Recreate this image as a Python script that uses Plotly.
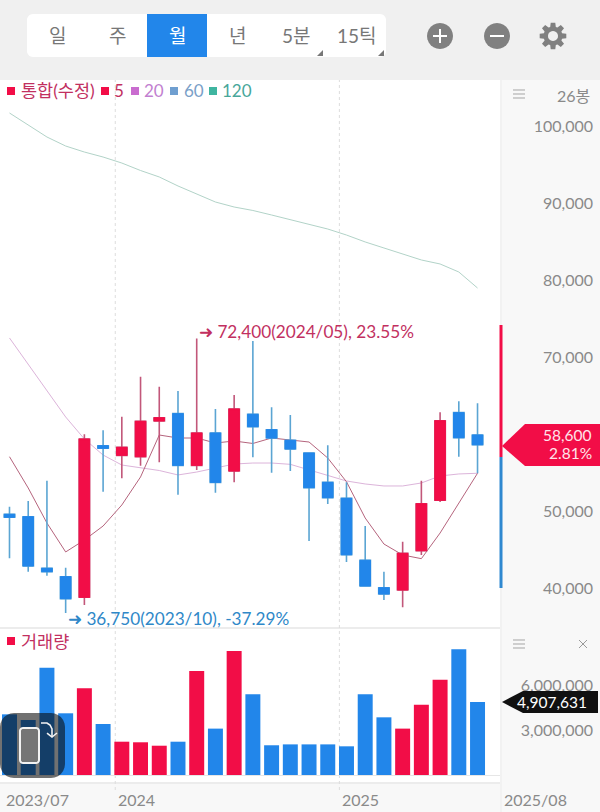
import math
import plotly.graph_objects as go

months = ['2023/07','2023/08','2023/09','2023/10','2023/11','2023/12',
          '2024/01','2024/02','2024/03','2024/04','2024/05','2024/06',
          '2024/07','2024/08','2024/09','2024/10','2024/11','2024/12',
          '2025/01','2025/02','2025/03','2025/04','2025/05','2025/06',
          '2025/07','2025/08']

opens  = [49570,49260,42560,41470,38790,58480,57230,57050,61690,62640,55930,60130,55190,
          62560,60560,59180,57530,53720,51650,43600,40040,39740,44840,51390,62770,59870]
highs  = [50560,51300,53930,42640,59960,60480,62250,67440,66140,65580,72400,63250,65060,
          72080,63470,62470,57600,58530,53720,48050,42120,46010,53930,62820,64240,63990]
lows   = [43860,42120,41600,36750,37800,52510,54240,55880,56320,52120,55320,52380,53720,
          56970,54970,55190,46100,50910,43380,40260,38440,37490,44290,51170,57050,54900]
closes = [49180,42860,42120,38610,59350,58140,58270,61650,62120,55930,60130,53720,63250,
          60950,59480,58050,53030,51730,44320,40260,39220,44500,50950,61730,59520,58600]

ma5   = [57050,52990,48440,44680,46230,48050,50780,54420,59870,59480,59480,58830,59090,
         58770,59480,59220,58960,56880,53800,49090,45710,44290,43810,47140,51040,54900]
ma20  = [72470,69090,65580,62210,59350,57270,55970,55580,55260,54680,55060,55580,56100,
         56230,56230,56060,55320,54610,53900,53510,53250,53250,53640,54550,54810,54900]
ma120 = [101690,100130,98570,97400,96620,95970,95190,94220,93380,92210,91170,90130,89480,
         89030,88440,87860,87210,86620,85840,84940,84160,83380,82600,82080,81040,78960]

volumes = [4080000,3700000,7220000,4150000,5830000,3430000,2240000,2200000,1970000,2240000,
           7000000,3120000,8340000,5430000,2000000,2060000,2060000,2060000,1930000,5430000,
           3880000,3120000,4730000,6410000,8450000,4907631]

price_ticks = [100000,90000,80000,70000,50000,40000]
volume_ticks = [6000000,3000000]

RED = '#f20d47'
BLUE = '#2286ea'
GREY = '#8a8a8a'
ROSE = '#c2305f'
LATIN = "Lato, 'Noto Sans CJK KR', sans-serif"

def px(x):
    return x / 600
def py(y):
    return 1 - y / 812

def box(x0, y0, x1, y1, color, layer='below'):
    fig.add_shape(type='rect', xref='paper', yref='paper', x0=px(x0), x1=px(x1), y0=py(y0), y1=py(y1),
                  fillcolor=color, line_width=0, layer=layer)

def seg(x0, y0, x1, y1, color, width=1, layer='above'):
    fig.add_shape(type='line', xref='paper', yref='paper', x0=px(x0), x1=px(x1), y0=py(y0), y1=py(y1),
                  line=dict(color=color, width=width), layer=layer)

def path_of(points, close=True):
    return 'M ' + ' L '.join(f'{px(x):.5f} {py(y):.5f}' for x, y in points) + (' Z' if close else '')

def poly(points, color, layer='above'):
    fig.add_shape(type='path', xref='paper', yref='paper', path=path_of(points), fillcolor=color,
                  line_width=0, layer=layer)

def stroke(points, color, width, close=False, fill=None):
    fig.add_shape(type='path', xref='paper', yref='paper', path=path_of(points, close), fillcolor=fill,
                  line=dict(color=color, width=width), layer='above')

def round_poly(x0, y0, x1, y1, r, n=6):
    pts = []
    corners = [(x1 - r, y0 + r, -90), (x1 - r, y1 - r, 0), (x0 + r, y1 - r, 90), (x0 + r, y0 + r, 180)]
    for cx, cy, a in corners:
        for k in range(n + 1):
            t = math.radians(a + 90 * k / n)
            pts.append((cx + r * math.cos(t), cy + r * math.sin(t)))
    return pts

def label(x, y, text, size=16, color=GREY, anchor='left', family=LATIN):
    fig.add_annotation(xref='paper', yref='paper', x=px(x), y=py(y), text=text, showarrow=False,
                       xanchor=anchor, yanchor='middle', borderpad=0,
                       font=dict(size=size, color=color, family=family))

fig = go.Figure()

# moving averages sit on the main axes so the candles overlay them
fig.add_trace(go.Scatter(x=months, y=ma120, mode='lines', line=dict(color='#b2d3c8', width=1), yaxis='y'))
fig.add_trace(go.Scatter(x=months, y=ma20, mode='lines', line=dict(color='#dcb4da', width=1), yaxis='y'))
fig.add_trace(go.Scatter(x=months, y=ma5, mode='lines', line=dict(color='#b5647d', width=1), yaxis='y'))

# wicks, then bodies on top
fig.add_trace(go.Candlestick(x=months, open=opens, high=highs, low=lows, close=closes, yaxis='y3',
                             whiskerwidth=0,
                             increasing=dict(line=dict(color='#c2577a', width=1.6), fillcolor='rgba(0,0,0,0)'),
                             decreasing=dict(line=dict(color='#5ba5d3', width=1.6), fillcolor='rgba(0,0,0,0)')))
fig.add_trace(go.Candlestick(x=months, open=opens, close=closes, yaxis='y3', whiskerwidth=0,
                             high=[max(o, c) for o, c in zip(opens, closes)],
                             low=[min(o, c) for o, c in zip(opens, closes)],
                             increasing=dict(line=dict(color=RED, width=1), fillcolor=RED),
                             decreasing=dict(line=dict(color=BLUE, width=1), fillcolor=BLUE)))

fig.add_trace(go.Bar(x=months, y=volumes, xaxis='x2', yaxis='y2',
                     marker=dict(color=[RED if c > o else BLUE for o, c in zip(opens, closes)], line_width=0)))

x_range = [-0.507, 26.2]
tick_font = dict(size=16, color=GREY, family=LATIN)
fig.update_layout(
    width=600, height=812, margin=dict(l=0, r=0, t=0, b=0, pad=0), autosize=False,
    paper_bgcolor='#f0f0f0', plot_bgcolor='#ffffff', showlegend=False, boxgap=0.2, bargap=0.2,
    xaxis=dict(domain=[0, 500/600], range=x_range, type='category', categoryorder='array', categoryarray=months,
               showticklabels=False, showgrid=False, zeroline=False, ticks='', rangeslider=dict(visible=False), anchor='y'),
    xaxis2=dict(domain=[0, 500/600], range=x_range, type='category', categoryorder='array', categoryarray=months,
                showticklabels=False, showgrid=False, zeroline=False, ticks='', anchor='y2'),
    yaxis=dict(domain=[py(627), py(80)], range=[34935, 105974], anchor='free', position=593/600, side='left',
               tickmode='array', tickvals=price_ticks, ticktext=[f'{v:,}' for v in price_ticks],
               tickfont=tick_font, showgrid=False, zeroline=False, ticks=''),
    yaxis3=dict(range=[34935, 105974], overlaying='y', visible=False),
    yaxis2=dict(domain=[py(784), py(629)], range=[-605000, 9820000], anchor='free', position=593/600, side='left',
                tickmode='array', tickvals=volume_ticks, ticktext=[f'{v:,}' for v in volume_ticks],
                tickfont=tick_font, showgrid=False, zeroline=True, zerolinecolor='#e6e6e6', zerolinewidth=1, ticks=''),
)

# panels
box(500, 80, 600, 812, '#f8f8f8')
box(0, 784, 500, 812, '#f8f8f8')
box(0, 627, 500, 629, '#ececec')
box(0, 782, 500, 784, '#ececec')
box(500, 80, 502, 812, '#f2f2f2')

# year separators
for pos in (5.65, 17.62):
    fig.add_shape(type='line', xref='x', yref='paper', x0=pos, x1=pos, y0=py(790), y1=py(80),
                  line=dict(color='#dddddd', width=1, dash='dot'), layer='below')

# toolbar
poly(round_poly(27, 14, 386, 57, 6), '#ffffff', layer='below')
box(147, 14, 207, 57, BLUE)
for x, t in [(57, '일'), (117, '주'), (237, '년'), (296, '5분'), (357, '15틱')]:
    label(x, 35, t, size=19, color='#777777', anchor='center')
label(177, 35, '월', size=19, color='#ffffff', anchor='center')
poly([(323, 50), (323, 56), (317, 56)], '#777777')
poly([(384, 50), (384, 56), (378, 56)], '#777777')

# zoom buttons and gear
poly(round_poly(427, 23, 453, 49, 13), '#808080')
poly(round_poly(484, 23, 510, 49, 13), '#808080')
seg(433, 36, 447, 36, '#ffffff', 2)
seg(440, 29, 440, 43, '#ffffff', 2)
seg(490, 36, 504, 36, '#ffffff', 2)
gear = []
for k in range(8):
    a = k * math.pi / 4
    for off, r in [(-0.30, 9.5), (-0.17, 13.5), (0.17, 13.5), (0.30, 9.5)]:
        gear.append((553 + r * math.cos(a + off), 36 + r * math.sin(a + off)))
poly(gear, '#808080')
poly(round_poly(548, 31, 558, 41, 5), '#f0f0f0')

# legend rows
for x, c in [(7, RED), (101, RED), (131, '#c96ccf'), (170, '#6f9fd0'), (209, '#3fb5a0')]:
    box(x, 87, x + 8, 95, c, layer='above')
label(20, 90, '통합(수정)', size=17.5, color=ROSE)
label(113, 90, '5', size=17, color=ROSE)
label(143, 90, '20', size=17, color='#c27fd0')
label(183, 90, '60', size=17, color='#7aa0c8')
label(221, 90, '120', size=17, color='#48a79a')
box(7, 637, 15, 645, RED, layer='above')
label(20, 641, '거래량', size=17.5, color=ROSE)

for y in (90, 94, 98):
    seg(513, y, 525, y, '#a5a5a5', 1)
for y in (640, 644, 648):
    seg(513, y, 525, y, '#a5a5a5', 1)
seg(579, 640, 587, 648, '#9a9a9a', 1)
seg(579, 648, 587, 640, '#9a9a9a', 1)
label(591, 95, '26봉', anchor='right')

# high / low notes
label(198, 331, '➜ 72,400(2024/05), 23.55%', size=17.2, color=ROSE)
label(67, 618, '➜ 36,750(2023/10), -37.29%', size=17.2, color='#2f88c8')

# range bar and current value tags
box(499.5, 325, 502.5, 457, RED, layer='above')
box(499.5, 457, 502.5, 588, '#2f88d0', layer='above')
poly([(502, 446), (525, 424), (600, 424), (600, 466), (525, 466)], RED)
label(591.5, 435, '58,600', size=15.5, color='#ffe4ea', anchor='right')
label(592.5, 453, '2.81%', size=15.5, color='#ffe4ea', anchor='right')
poly([(502, 702), (523, 691), (598, 691), (598, 713), (523, 713)], '#111111')
label(588, 702, '4,907,631', size=15.5, color='#ffffff', anchor='right')

# x labels
label(5, 799, '2023/07')
label(117, 799, '2024')
label(341, 799, '2025')
label(503, 799, '2025/08')

# screen rotation button over the volume panel
poly(round_poly(0, 713, 65, 778, 14), 'rgba(10,10,10,0.58)')
stroke(round_poly(20, 728, 39, 763, 3), '#f2f2f2', 2, close=True, fill='#757575')
stroke([(41, 723), (47, 723), (50, 725), (52, 729), (52, 737)], '#f2f2f2', 1.6)
stroke([(47, 733), (52, 737), (57, 733)], '#f2f2f2', 1.6)

fig.write_html('out.html', config=dict(displayModeBar=False),
               post_script="document.body.style.margin='0';document.documentElement.style.overflow='hidden';")
print('out.html written')
